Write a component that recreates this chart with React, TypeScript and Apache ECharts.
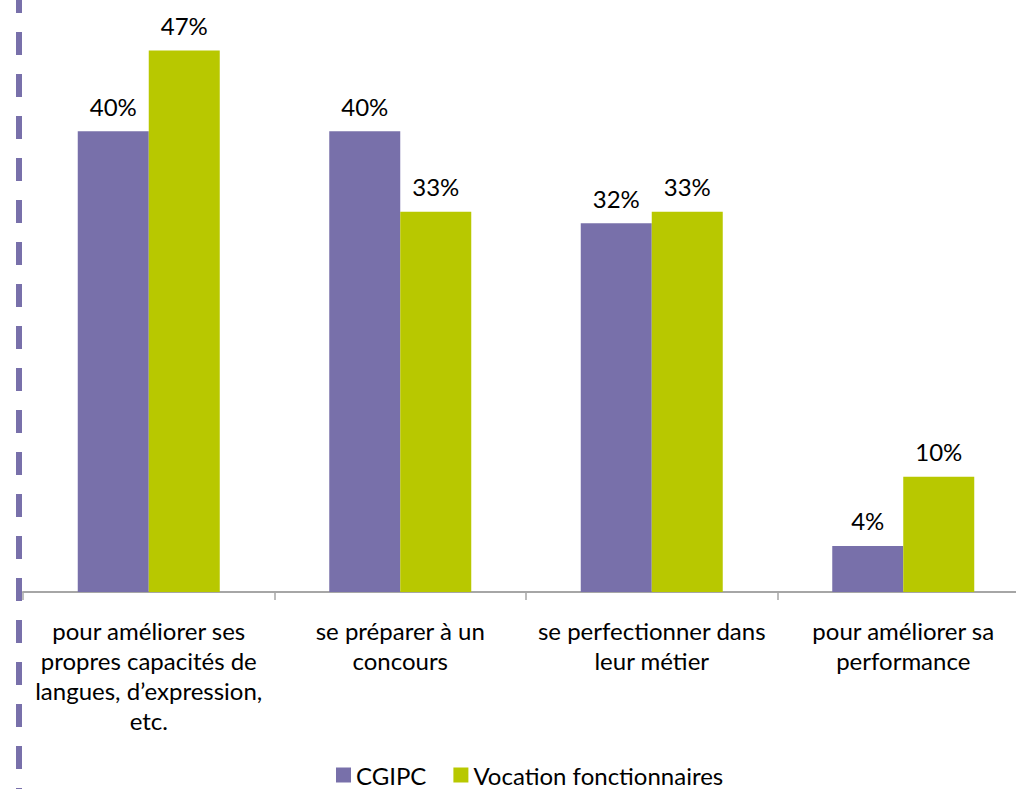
import React, { useEffect, useRef } from "react";
import * as echarts from "echarts";

const categories = [
  "pour améliorer ses\npropres capacités de\nlangues, d’expression,\netc.",
  "se préparer à un\nconcours",
  "se perfectionner dans\nleur métier",
  "pour améliorer sa\nperformance",
];
const seriesNames = ["CGIPC", "Vocation fonctionnaires"];
const cgipc = [40, 40, 32, 4];
const vocation = [47, 33, 33, 10];

const FONT = "Lato, 'Open Sans', sans-serif";
const FS = 24;

export default function App() {
  const ref = useRef<HTMLDivElement>(null);
  useEffect(() => {
    if (!ref.current) return;
    const chart = echarts.init(ref.current, null, { renderer: "svg" });
    const label = {
      show: true,
      position: "top" as const,
      distance: 13,
      formatter: "{c}%",
      color: "#000",
      fontSize: FS,
      fontFamily: FONT,
    };
    chart.setOption({
      animation: false,
      backgroundColor: "#fff",
      grid: {
        left: 23,
        width: 1006,
        top: 16,
        height: 576,
        containLabel: false,
        outerBoundsMode: "none",
      },
      xAxis: {
        type: "category",
        data: categories,
        axisLine: { lineStyle: { color: "#A6A6A6", width: 2 } },
        axisTick: { show: true, length: 8, lineStyle: { color: "#A6A6A6", width: 1.5 } },
        axisLabel: {
          interval: 0,
          color: "#000",
          fontSize: FS,
          fontFamily: FONT,
          lineHeight: 30,
          margin: 23,
        },
      },
      yAxis: {
        type: "value",
        min: 0,
        max: 50,
        show: false,
        splitLine: { show: false },
      },
      legend: {
        left: 331,
        top: 758,
        itemWidth: 15,
        itemHeight: 15,
        itemGap: 27,
        icon: "rect",
        textStyle: { color: "#000", fontSize: FS, fontFamily: FONT },
        data: seriesNames,
      },
      series: [
        {
          name: seriesNames[0],
          type: "bar",
          data: cgipc,
          barWidth: 71,
          barGap: "0%",
          itemStyle: { color: "#7870AA" },
          label,
        },
        {
          name: seriesNames[1],
          type: "bar",
          data: vocation,
          barWidth: 71,
          barGap: "0%",
          itemStyle: { color: "#B8C800" },
          label,
        },
      ],
      graphic: [
        {
          type: "line",
          shape: { x1: 19, y1: -10, x2: 19, y2: 800 },
          style: { stroke: "#7870AA", lineWidth: 6, lineDash: [23, 19] },
          silent: true,
        },
      ],
    });
    return () => chart.dispose();
  }, []);
  return (
    <div
      ref={ref}
      style={{ position: "fixed", left: 0, top: 0, width: 1016, height: 789 }}
    />
  );
}
